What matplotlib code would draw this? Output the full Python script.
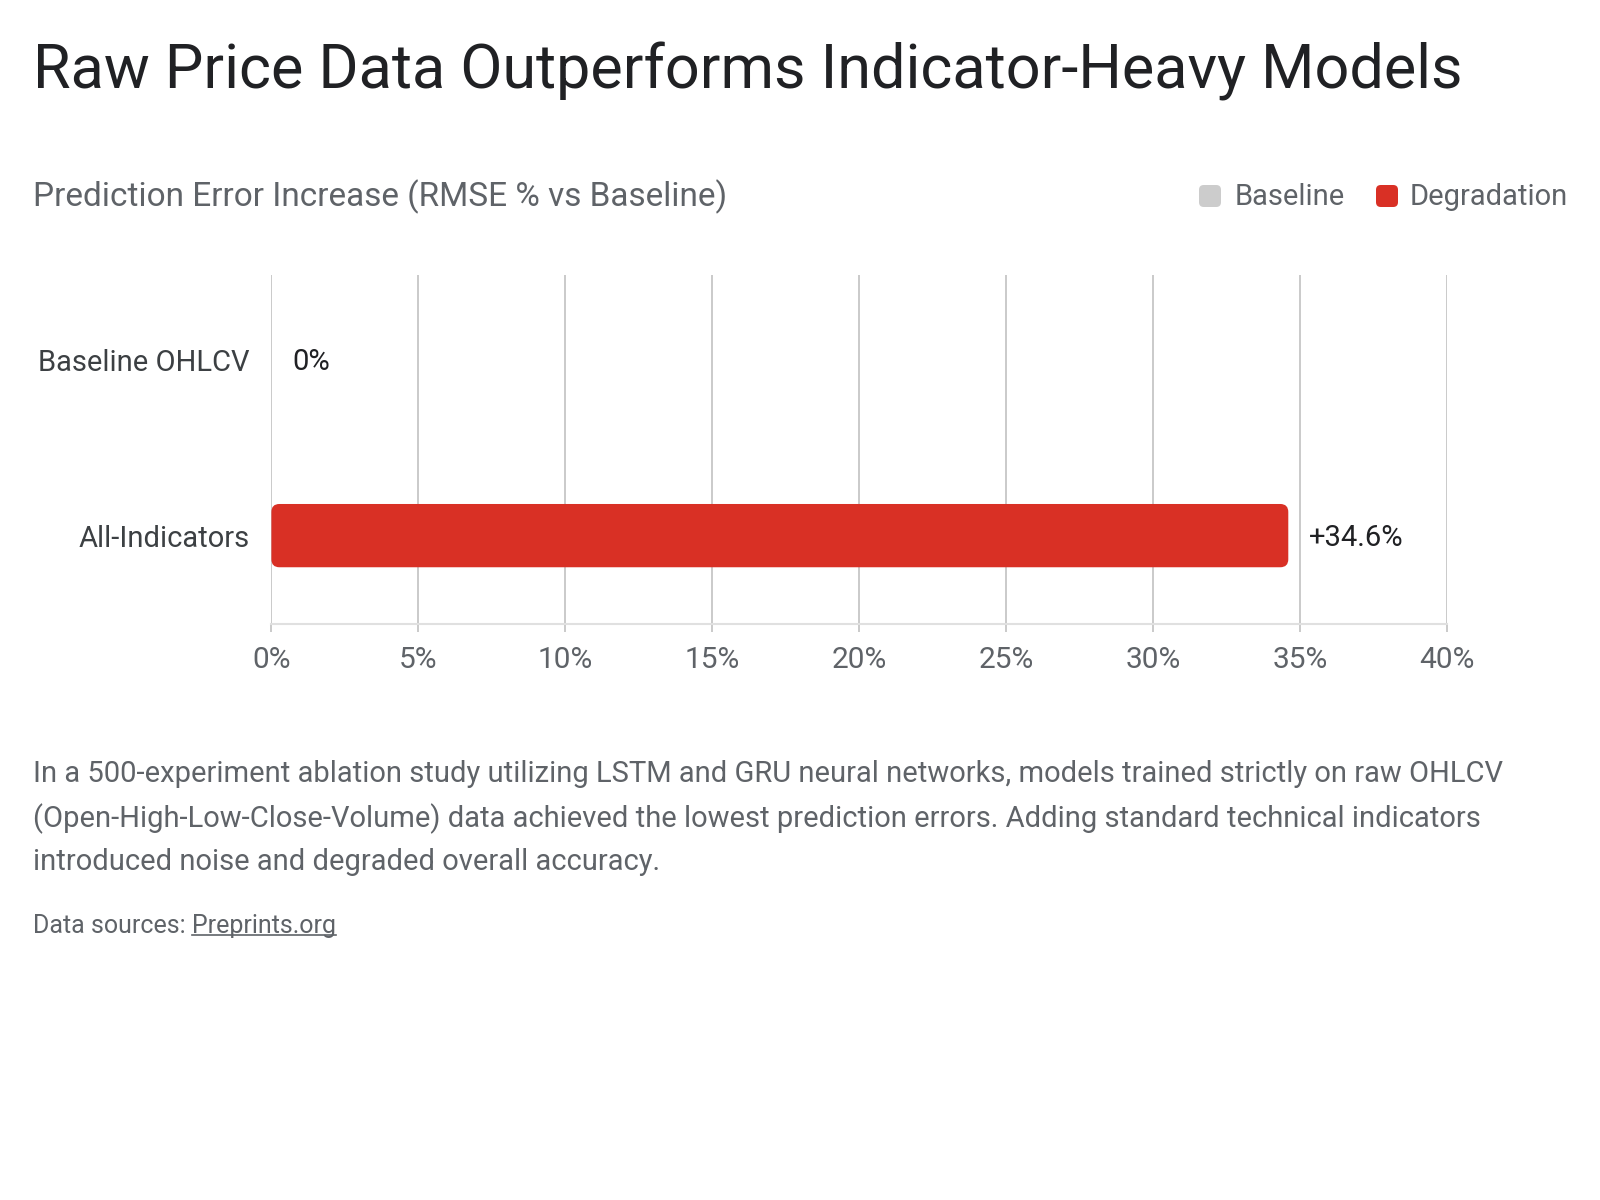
import matplotlib
matplotlib.use("Agg")
import matplotlib.pyplot as plt
from matplotlib.patches import FancyBboxPatch

categories = ["Baseline OHLCV", "All-Indicators"]
values = [0.0, 34.6]
value_labels = ["0%", "+34.6%"]
bar_series = ["Baseline", "Degradation"]
colors = {"Baseline": "#cccccc", "Degradation": "#d93025"}
xticks = [0, 5, 10, 15, 20, 25, 30, 35, 40]
xtick_labels = [f"{t}%" for t in xticks]

title = "Raw Price Data Outperforms Indicator-Heavy Models"
subtitle = "Prediction Error Increase (RMSE % vs Baseline)"
body = ("In a 500-experiment ablation study utilizing LSTM and GRU neural networks, models trained strictly on raw OHLCV\n"
        "(Open-High-Low-Close-Volume) data achieved the lowest prediction errors. Adding standard technical indicators\n"
        "introduced noise and degraded overall accuracy.")
source_prefix = "Data sources: "
source_link = "Preprints.org"

FONT = ["Roboto", "DejaVu Sans"]
plt.rcParams["font.family"] = FONT

W, H = 1600, 1200
fig = plt.figure(figsize=(16, 12), dpi=100)
fig.patch.set_facecolor("white")

ax_l, ax_r, ax_t, ax_b = 271.4, 1447, 275.5, 623.5
ax = fig.add_axes([ax_l / W, 1 - ax_b / H, (ax_r - ax_l) / W, (ax_b - ax_t) / H])
ax.set_xlim(0, 40)
ax.set_ylim(1.5, -0.48)

bar_h = 0.36
px_per_x = (ax_r - ax_l) / 40
px_per_y = (ax_b - ax_t) / 1.98
radius_px = 8
for i, (cat, v, s) in enumerate(zip(categories, values, bar_series)):
    if v > 0:
        rx = radius_px / px_per_x
        p = FancyBboxPatch((0 + rx, i - bar_h / 2 + radius_px / px_per_y),
                           v - 2 * rx, bar_h - 2 * radius_px / px_per_y,
                           boxstyle=f"round,pad={rx},rounding_size={rx}",
                           mutation_aspect=px_per_x / px_per_y,
                           facecolor=colors[s], edgecolor="none", zorder=3)
        ax.add_patch(p)
    else:
        ax.barh(i, v, height=bar_h, color=colors[s], zorder=3)
    ax.annotate(value_labels[i], (v, i), xytext=(21, -2), textcoords="offset pixels",
                va="center", ha="left", fontsize=21, color="#202124", zorder=4)

ax.set_yticks(range(len(categories)))
ax.set_yticklabels(categories, fontsize=21, color="#3c4043")
ax.tick_params(axis="y", length=0, pad=16)
ax.set_xticks(xticks)
ax.set_xticklabels(xtick_labels, fontsize=21.5, color="#5f6368")
ax.tick_params(axis="x", length=6, width=1.3, color="#c6c6c6", pad=10)
ax.grid(axis="x", color="#c6c6c6", linewidth=1.3, zorder=0)
for s in ["top", "right", "left"]:
    ax.spines[s].set_visible(False)
ax.spines["bottom"].set_color("#e0e0e0")
ax.spines["bottom"].set_linewidth(1.5)
ax.set_axisbelow(True)

fig.text(33 / W, 1 - 71 / H, title, fontsize=44, color="#202124", va="center", ha="left")
fig.text(33 / W, 1 - 197 / H, subtitle, fontsize=24, color="#5f6368", va="center", ha="left")

# legend
legend_items = [("Baseline", 1199, 1235), ("Degradation", 1376, 1410)]
for name, sx, tx in legend_items:
    fig.patches.append(FancyBboxPatch((sx / W, 1 - 207 / H), 22 / W, 22 / H,
                                      boxstyle="round,pad=0,rounding_size=0.003",
                                      transform=fig.transFigure, facecolor=colors[name],
                                      edgecolor="none", mutation_aspect=W / H))
    fig.text(tx / W, 1 - 197 / H, name, fontsize=21, color="#5f6368", va="center", ha="left")

fig.text(33 / W, 1 - 818 / H, body, fontsize=21, color="#5f6368", va="center", ha="left",
         linespacing=1.66)

t1 = fig.text(33 / W, 1 - 926 / H, source_prefix, fontsize=18, color="#5f6368", va="center", ha="left")
fig.canvas.draw()
bb = t1.get_window_extent()
t2 = fig.text(bb.x1 / W, 1 - 926 / H, source_link, fontsize=18, color="#5f6368", va="center", ha="left")
fig.canvas.draw()
bb2 = t2.get_window_extent()
fig.add_artist(plt.Line2D([bb2.x0 / W, bb2.x1 / W], [(bb2.y0 + 3) / H] * 2, transform=fig.transFigure,
                          color="#5f6368", linewidth=1.2))

fig.savefig("out.png", dpi=100, facecolor="white")
